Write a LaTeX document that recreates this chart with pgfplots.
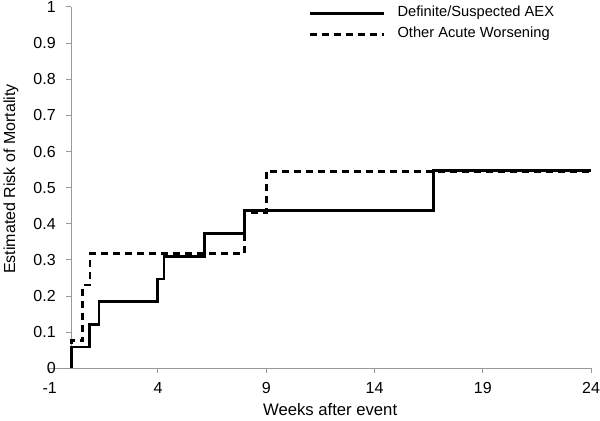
\documentclass[border=0pt]{standalone}
\usepackage{fontspec}
\setmainfont{Liberation Sans}
\usepackage{pgfplots}
\pgfplotsset{compat=1.18}
\begin{document}
\begin{tikzpicture}
\begin{axis}[
  width=406pt, height=271pt, scale only axis,
  at={(0,0)}, anchor=south west,
  xmin=-1, xmax=24, ymin=0, ymax=1,
  clip=false,
  axis x line=bottom, axis y line=middle,
  axis line style={-, draw=black!40, line width=0.75pt},
  every inner y axis line/.append style={-},
  every outer x axis line/.append style={-},
  hide obscured x ticks=false, hide obscured y ticks=false,
  xtick={-1,4,9,14,19,24},
  xticklabels={-1,4,9,14,19,24},
  ytick={0,0.1,0.2,0.3,0.4,0.5,0.6,0.7,0.8,0.9,1},
  yticklabels={0,0.1,0.2,0.3,0.4,0.5,0.6,0.7,0.8,0.9,1},
  tick align=outside,
  major tick length=3.75pt,
  tick style={draw=black!40, line width=0.75pt},
  ticklabel style={font=\fontsize{12}{14}\selectfont},
  yticklabel style={anchor=east, xshift=-4.5pt},
  xticklabel style={anchor=north, yshift=-3pt},
  every axis y label/.style={at={(axis description cs:-0.064,0.524)}, anchor=base, rotate=90, font=\fontsize{12}{14}\selectfont},
  every axis x label/.style={at={(axis description cs:0.518,-0.131)}, anchor=base, font=\fontsize{12.5}{14}\selectfont},
  ylabel={Estimated Risk of Mortality},
  xlabel={Weeks after event},
  legend style={draw=none, fill=none, at={(axis description cs:0.477,1.003)}, anchor=north west,
    font=\fontsize{11}{13}\selectfont, inner sep=0pt, row sep=5.25pt, column sep=9.5pt,
    nodes={inner sep=0pt, text height=8pt, text depth=2.5pt}},
  legend cell align=left,
  legend image code/.code={\draw[#1] (0pt,0pt) -- (55.5pt,0pt);},
]
\addplot[const plot, black, line width=2pt] coordinates {
 (0,0) (0,0.059) (0.83,0.122) (1.28,0.185) (3.985,0.247) (4.28,0.309) (6.14,0.373) (7.99,0.436) (16.71,0.547) (24,0.547)
};
\addlegendentry{Definite/Suspected AEX}
\addplot[const plot, black, line width=2pt, dash pattern=on 5.25pt off 3.75pt] coordinates {
 (0,0) (0,0.077) (0.52,0.231) (0.86,0.317) (7.99,0.432) (9.0,0.545) (24,0.545)
};
\addlegendentry{Other Acute Worsening}
\coordinate (bl) at (axis cs:-1,0);
\end{axis}
\pgfresetboundingbox
\path (bl) ++(-37.3pt,-39.5pt) rectangle ++(450pt,315.75pt);
\end{tikzpicture}
\end{document}
